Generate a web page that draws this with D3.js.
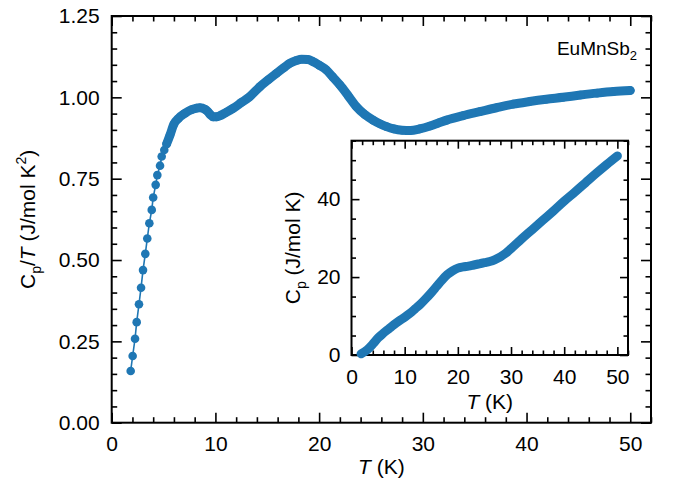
<!DOCTYPE html>
<html>
<head>
<meta charset="utf-8">
<script src="https://cdn.jsdelivr.net/npm/d3@7/dist/d3.min.js"></script>
<style>
  html, body { margin: 0; padding: 0; background: #fff; }
  svg { display: block; font-family: "Liberation Sans", Arial, Helvetica, sans-serif; }
  .tick text { font-size: 21px; fill: #000; }
  .tick line { stroke: #000; stroke-width: 1.6; }
</style>
</head>
<body>
<svg id="chart" width="675" height="493"></svg>
<script>
// ---------------- data ----------------
const mainT = [1.83, 2.02, 2.25, 2.41, 2.63, 2.83, 3.02, 3.24, 3.43, 3.63, 3.86, 4.0, 4.24, 4.40, 4.66, 4.82, 5.07, 5.30,
  5.62, 6.0, 6.43, 7.07, 7.7, 8.2, 8.5, 9.0, 9.3, 9.5, 9.8, 10.1, 10.4, 11.0, 11.7, 12.5, 13.3, 14.3, 15.1, 15.9, 16.6,
  17.2, 17.8, 18.3, 18.9, 19.4, 20.0, 20.7, 21.3, 22.0, 22.8, 23.6, 24.4, 25.2, 25.9, 26.5, 27.2, 28.0, 28.8, 29.7,
  30.7, 31.5, 32.3, 33.9, 35.5, 37.1, 38.7, 40.3, 41.9, 43.5, 45.2, 46.8, 48.4, 50.0];
const mainCpT = [0.159, 0.205, 0.258, 0.309, 0.364, 0.415, 0.469, 0.519, 0.566, 0.613, 0.654, 0.692, 0.731, 0.761, 0.790, 0.818, 0.838, 0.857,
  0.884, 0.918, 0.935, 0.951, 0.962, 0.967, 0.968, 0.963, 0.955, 0.947, 0.940, 0.940, 0.943, 0.953, 0.966, 0.984, 1.002, 1.033, 1.054, 1.074, 1.091,
  1.105, 1.113, 1.117, 1.116, 1.110, 1.099, 1.084, 1.063, 1.038, 1.005, 0.971, 0.947, 0.930, 0.918, 0.910, 0.903, 0.899, 0.898, 0.903,
  0.912, 0.921, 0.930, 0.944, 0.956, 0.968, 0.979, 0.987, 0.994, 1.000, 1.007, 1.013, 1.018, 1.021];

const insetT  = [1.8, 3, 4, 5, 6, 7, 8, 9, 10, 11, 12, 13, 14, 15, 16, 17, 18, 19, 20, 21, 22, 23, 24, 25, 26, 27, 28, 29, 30,
  32, 34, 36, 38, 40, 42, 44, 46, 48, 50];
const insetCp = [0.3, 1.4, 2.8, 4.4, 5.6, 6.7, 7.8, 8.8, 9.7, 10.7, 11.9, 13.1, 14.5, 16.0, 17.6, 19.2, 20.6, 21.6, 22.3, 22.6, 22.8, 23.1,
  23.4, 23.7, 24.0, 24.5, 25.2, 26.1, 27.3, 29.8, 32.2, 34.6, 37.0, 39.5, 41.8, 44.2, 46.6, 48.9, 51.1];

const mainXTicks = [0, 10, 20, 30, 40, 50];
const mainYTicks = [0, 0.25, 0.5, 0.75, 1.0, 1.25];
const insetXTicks = [0, 10, 20, 30, 40, 50];
const insetYTicks = [0, 20, 40];

const sampleLabel = "EuMnSb";
const sampleSub = "2";

// ---------------- layout ----------------
const color = "#1f77b4";
const FS = 21;
const denseFrom = 5.3;   // above this, the measured points overlap into a solid band
const svg = d3.select("#chart");

const M = { left: 111.7, right: 651, top: 16, bottom: 422.7 };
const I = { left: 351.5, right: 628, top: 140.7, bottom: 355 };

const x = d3.scaleLinear().domain([0, 52]).range([M.left, M.right]);
const y = d3.scaleLinear().domain([0, 1.25]).range([M.bottom, M.top]);
const xi = d3.scaleLinear().domain([0, 52]).range([I.left, I.right]);
const yi = d3.scaleLinear().domain([0, 55]).range([I.bottom, I.top]);

function range(a, b, s) { const r = []; for (let v = a; v <= b + 1e-9; v += s) r.push(+v.toFixed(4)); return r; }

function frame(g, xs, ys, box, xMaj, yMaj, xMin, yMin, majLen, minLen, xFmt, yFmt, padX, padY) {
  const W = box.right - box.left, H = box.bottom - box.top;
  const mk = (axis, tr, vals, len, fmt, pad) => {
    const a = g.append("g").attr("transform", tr)
      .call(axis.tickValues(vals).tickSize(-len).tickPadding(pad).tickFormat(fmt));
    a.select(".domain").remove();
    return a;
  };
  const none = () => "";
  mk(d3.axisBottom(xs), `translate(0,${box.bottom})`, xMin, minLen, none, padX);
  mk(d3.axisBottom(xs), `translate(0,${box.bottom})`, xMaj, majLen, xFmt, padX);
  mk(d3.axisTop(xs), `translate(0,${box.top})`, xMin, minLen, none, 3);
  mk(d3.axisTop(xs), `translate(0,${box.top})`, xMaj, majLen, none, 3);
  mk(d3.axisLeft(ys), `translate(${box.left},0)`, yMin, minLen, none, padY);
  mk(d3.axisLeft(ys), `translate(${box.left},0)`, yMaj, majLen, yFmt, padY);
  mk(d3.axisRight(ys), `translate(${box.right},0)`, yMin, minLen, none, 3);
  mk(d3.axisRight(ys), `translate(${box.right},0)`, yMaj, majLen, none, 3);
  g.append("rect").attr("x", box.left).attr("y", box.top).attr("width", W).attr("height", H)
    .attr("fill", "none").attr("stroke", "#000").attr("stroke-width", 2);
}

// ---------------- main plot ----------------
const gMain = svg.append("g");
const mainData = mainT.map((t, i) => ({ t, v: mainCpT[i] }));

frame(gMain, x, y, M, mainXTicks, mainYTicks,
  range(0, 52, 2).filter(v => !mainXTicks.includes(v)),
  range(0, 1.25, 0.05).filter(v => !mainYTicks.some(m => Math.abs(m - v) < 1e-6)),
  10, 5.5, d3.format("d"), d3.format(".2f"), 13, 12);

const lineMain = d3.line().x(d => x(d.t)).y(d => y(d.v));
gMain.append("path").datum(mainData).attr("d", lineMain)
  .attr("fill", "none").attr("stroke", color).attr("stroke-width", 1.6);
gMain.append("path").datum(mainData.filter(d => d.t >= denseFrom)).attr("d", lineMain.curve(d3.curveMonotoneX))
  .attr("fill", "none").attr("stroke", color).attr("stroke-width", 9)
  .attr("stroke-linecap", "round").attr("stroke-linejoin", "round");
gMain.selectAll("circle.pt").data(mainData).join("circle").attr("class", "pt")
  .attr("cx", d => x(d.t)).attr("cy", d => y(d.v)).attr("r", 4.3).attr("fill", color);

// axis titles (main)
const xt = svg.append("text").attr("x", (M.left + M.right) / 2).attr("y", 474)
  .attr("text-anchor", "middle").attr("font-size", FS);
xt.append("tspan").attr("font-style", "italic").text("T");
xt.append("tspan").text(" (K)");

const yt = svg.append("text").attr("transform", `translate(35,${(M.top + M.bottom) / 2}) rotate(-90)`)
  .attr("text-anchor", "middle").attr("font-size", FS);
yt.append("tspan").text("C");
yt.append("tspan").attr("font-size", 14).attr("dy", 6).text("p");
yt.append("tspan").attr("dy", -6).text("/");
yt.append("tspan").attr("font-style", "italic").text("T");
yt.append("tspan").text(" (J/mol K");
yt.append("tspan").attr("font-size", 14).attr("dy", -9).text("2");
yt.append("tspan").attr("dy", 9).text(")");

// sample label
const sl = svg.append("text").attr("x", 637).attr("y", 55).attr("text-anchor", "end").attr("font-size", 19);
sl.append("tspan").text(sampleLabel);
sl.append("tspan").attr("font-size", 13).attr("dy", 5).text(sampleSub);

// ---------------- inset ----------------
const gIn = svg.append("g");
gIn.append("rect").attr("x", I.left).attr("y", I.top).attr("width", I.right - I.left).attr("height", I.bottom - I.top)
  .attr("fill", "#fff");
frame(gIn, xi, yi, I, insetXTicks, insetYTicks,
  range(0, 52, 2).filter(v => !insetXTicks.includes(v)),
  range(0, 55, 5).filter(v => !insetYTicks.includes(v)),
  8, 4.5, d3.format("d"), d3.format("d"), 14, 11);

const insetData = insetT.map((t, i) => ({ t, v: insetCp[i] }));
gIn.append("path").datum(insetData)
  .attr("d", d3.line().x(d => xi(d.t)).y(d => yi(d.v)).curve(d3.curveMonotoneX))
  .attr("fill", "none").attr("stroke", color).attr("stroke-width", 9)
  .attr("stroke-linecap", "round").attr("stroke-linejoin", "round");

const ixt = svg.append("text").attr("x", (I.left + I.right) / 2).attr("y", 409)
  .attr("text-anchor", "middle").attr("font-size", FS);
ixt.append("tspan").attr("font-style", "italic").text("T");
ixt.append("tspan").text(" (K)");

const iyt = svg.append("text").attr("transform", `translate(300,${(I.top + I.bottom) / 2}) rotate(-90)`)
  .attr("text-anchor", "middle").attr("font-size", FS);
iyt.append("tspan").text("C");
iyt.append("tspan").attr("font-size", 14).attr("dy", 6).text("p");
iyt.append("tspan").attr("dy", -6).text(" (J/mol K)");
</script>
</body>
</html>
